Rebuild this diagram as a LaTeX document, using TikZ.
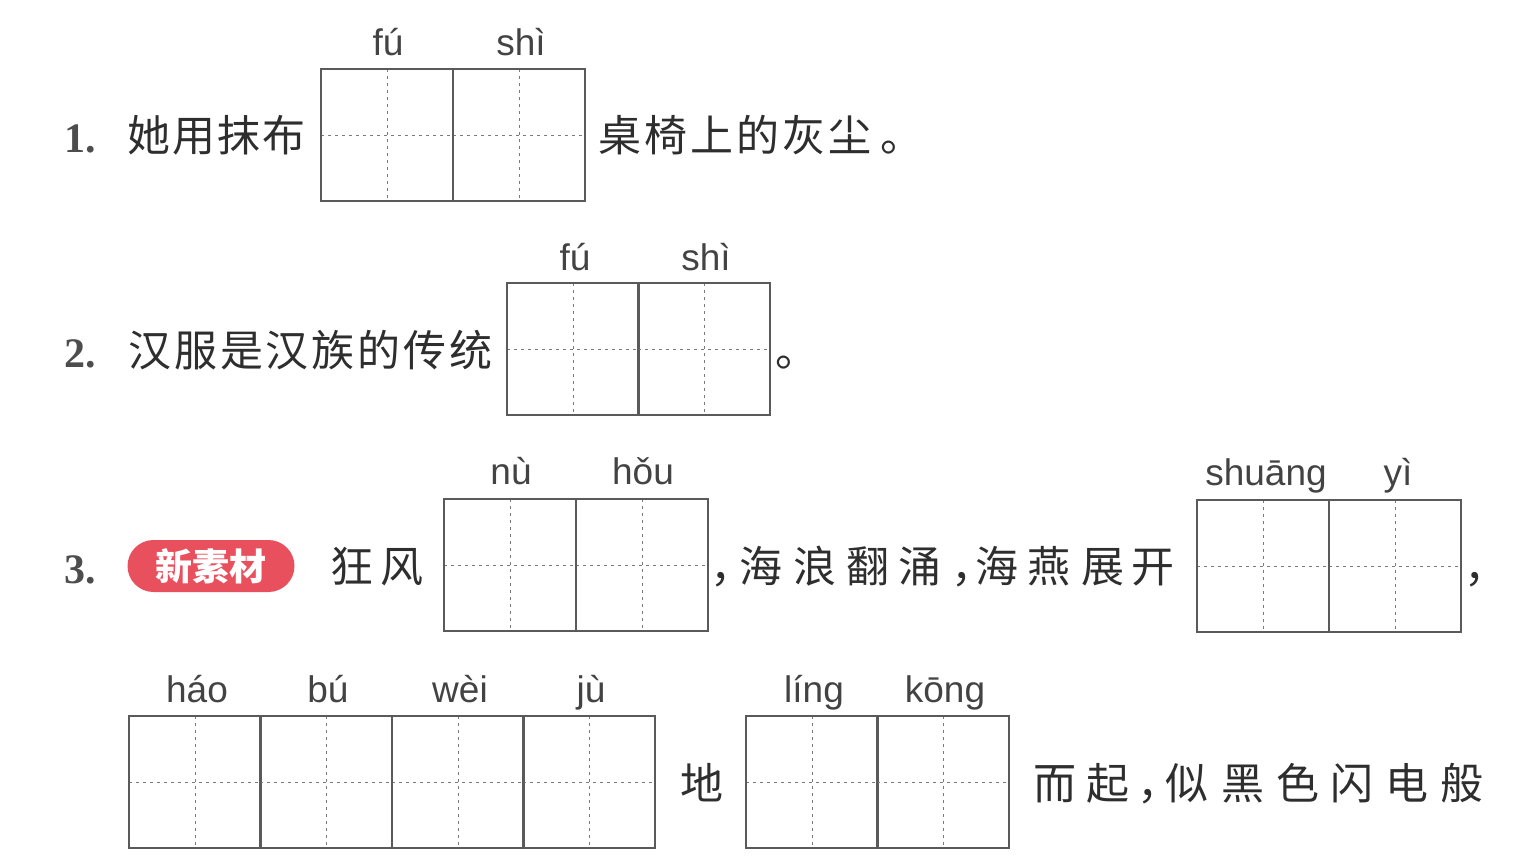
\documentclass[tikz,border=0pt]{standalone}
\usepackage{fontspec}
\setmainfont{Liberation Serif}
\newfontfamily\cjk{Noto Sans CJK SC}
\newfontfamily\py{Liberation Sans}
\definecolor{boxgray}{HTML}{5A5A5A}
\definecolor{dashgray}{HTML}{7A7A7A}
\definecolor{txt}{HTML}{2E2E2E}
\definecolor{badgered}{HTML}{E9505E}
\begin{document}
\begin{tikzpicture}[x=0.5pt,y=-0.5pt,
  cell/.style={draw=boxgray, line width=0.75pt, minimum width=66pt, minimum height=66pt, inner sep=0pt,
    path picture={\draw[dashgray, line width=0.5pt, dash pattern=on 1.5pt off 2pt]
      (path picture bounding box.north) -- (path picture bounding box.south)
      (path picture bounding box.west) -- (path picture bounding box.east);}},
  zh/.style={font=\cjk\fontsize{21.5}{22}\selectfont, text=txt, inner sep=0pt, text height=18.9pt, text depth=2.6pt},
  pin/.style={font=\py\fontsize{18.5}{19}\selectfont, text=txt!90, inner sep=0pt, anchor=base},
  num/.style={font=\bfseries\fontsize{21}{22}\selectfont, text=txt!85, inner sep=0pt, anchor=base west},
  badge/.style={fill=badgered, rounded corners=13pt, minimum width=83.5pt, minimum height=26pt, inner sep=0pt,
    text=white, font=\cjk\bfseries\fontsize{18.5}{19}\selectfont}]
\useasboundingbox (0,0) rectangle (1519,863);

% ---------- Row 1 ----------
\node[num] (n1) at (64,152) {1.};
\foreach \c/\x [count=\i] in {她/149,用/194,抹/239,布/284}
  \node[zh] (r1a\i) at (\x,135) {\c};
\node[cell] (c1a) at (387,135) {};
\node[cell] (c1b) at (519,135) {};
\node[pin] (p1a) at (388,55) {fú};
\node[pin] (p1b) at (521,55) {shì};
\foreach \c/\x [count=\i] in {桌/620,椅/666,上/712,的/758,灰/804,尘/850,。/902}
  \node[zh] (r1b\i) at (\x,135) {\c};

% ---------- Row 2 ----------
\node[num] (n2) at (64,367) {2.};
\foreach \c/\x [count=\i] in {汉/150,服/196,是/242,汉/287,族/333,的/379,传/425,统/471}
  \node[zh] (r2a\i) at (\x,350) {\c};
\node[cell] (c2a) at (573,349) {};
\node[cell] (c2b) at (704,349) {};
\node[pin] (p2a) at (575,270) {fú};
\node[pin] (p2b) at (706,270) {shì};
\node[zh] (r2b) at (797,350) {。};

% ---------- Row 3 ----------
\node[num] (n3) at (64,583) {3.};
\node[badge] (tag) at (211,566) {新素材};
\foreach \c/\x [count=\i] in {狂/352,风/402}
  \node[zh] (r3a\i) at (\x,566) {\c};
\node[cell] (c3a) at (510,565) {};
\node[cell] (c3b) at (642,565) {};
\node[pin] (p3a) at (511,484) {nù};
\node[pin] (p3b) at (643,484) {hǒu};
\foreach \c/\x [count=\i] in {，/732,海/761,浪/815,翻/868,涌/920,，/973,海/997,燕/1049,展/1103,开/1153}
  \node[zh] (r3b\i) at (\x,566) {\c};
\node[cell] (c3c) at (1263,566) {};
\node[cell] (c3d) at (1395,566) {};
\node[pin] (p3c) at (1266,485) {shuāng};
\node[pin] (p3d) at (1398,485) {yì};
\node[zh] (r3c) at (1486,566) {，};

% ---------- Row 4 ----------
\node[cell] (c4a) at (195,782) {};
\node[cell] (c4b) at (326,782) {};
\node[cell] (c4c) at (458,782) {};
\node[cell] (c4d) at (589,782) {};
\node[pin] (p4a) at (197,702) {háo};
\node[pin] (p4b) at (328,702) {bú};
\node[pin] (p4c) at (460,702) {wèi};
\node[pin] (p4d) at (591,702) {jù};
\node[zh] (r4a) at (702,783) {地};
\node[cell] (c4e) at (812,782) {};
\node[cell] (c4f) at (943,782) {};
\node[pin] (p4e) at (814,702) {líng};
\node[pin] (p4f) at (945,702) {kōng};
\foreach \c/\x [count=\i] in {而/1055,起/1108,，/1159,似/1187,黑/1243,色/1298,闪/1352,电/1407,般/1462}
  \node[zh] (r4b\i) at (\x,783) {\c};
\end{tikzpicture}
\end{document}
